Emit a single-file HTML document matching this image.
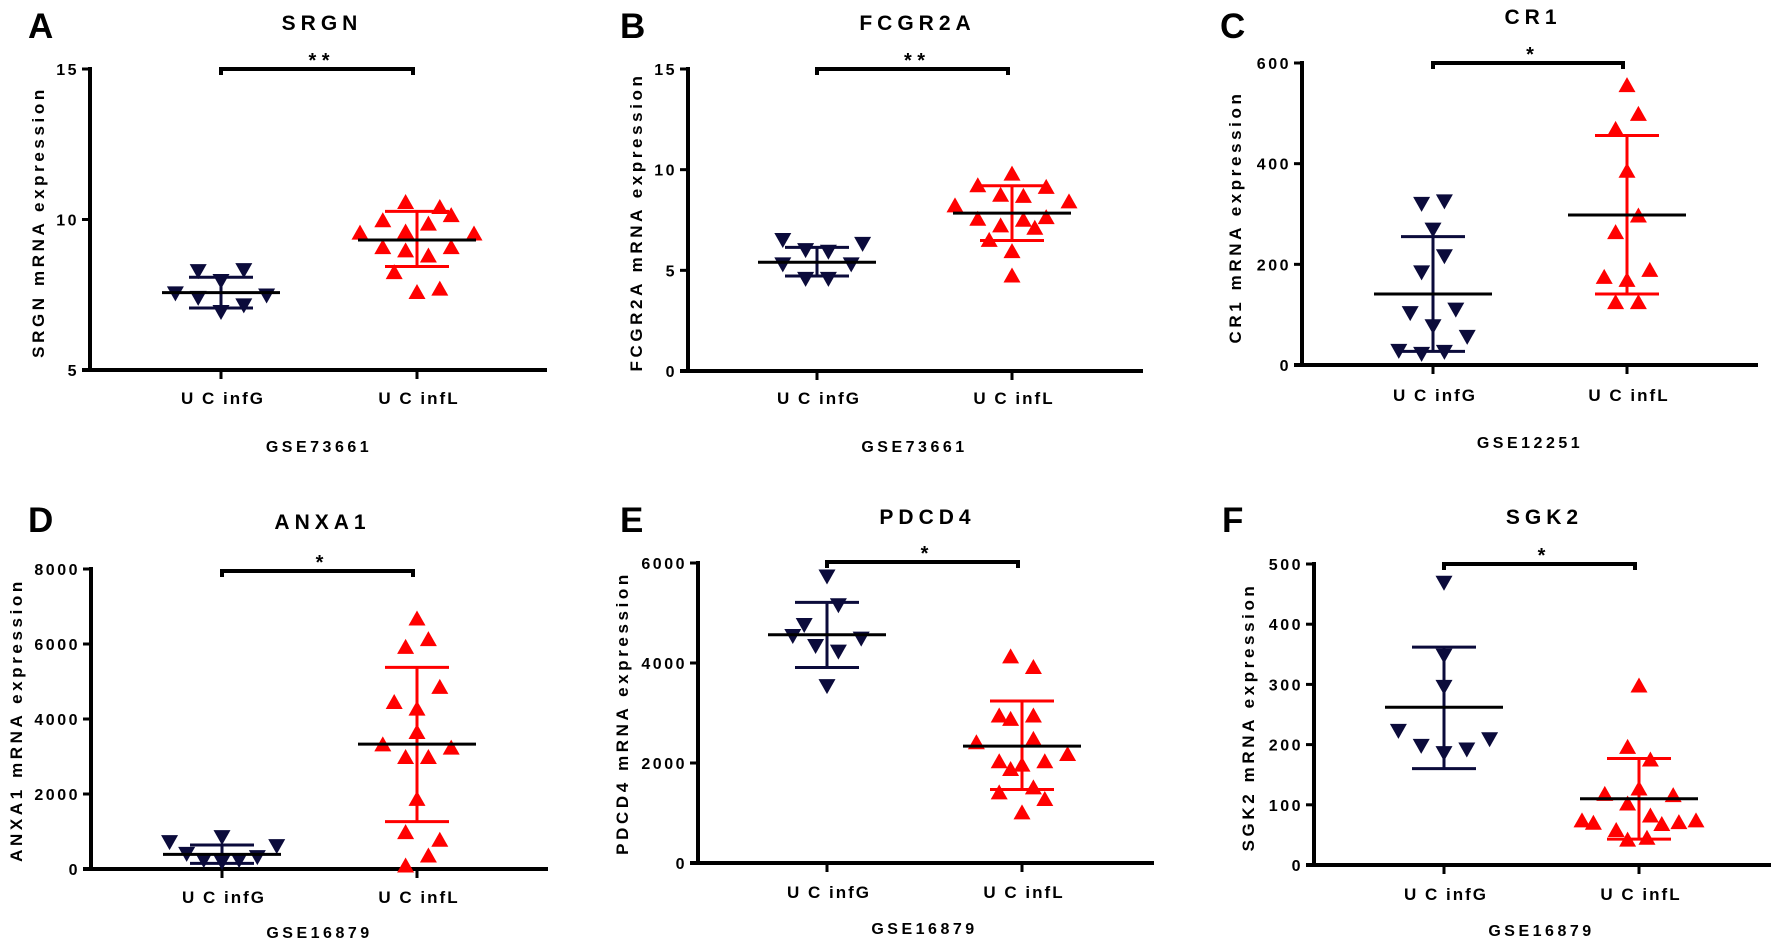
<!DOCTYPE html>
<html><head><meta charset="utf-8">
<style>
html,body{margin:0;padding:0;background:#fff;}
svg{display:block;font-family:"Liberation Sans",Arial,sans-serif;font-weight:bold;}
</style></head>
<body>
<svg id="fig" width="1772" height="944" viewBox="0 0 1772 944" xmlns="http://www.w3.org/2000/svg"></svg>
<script>
// ---------- DATA ----------
const categories = ["U C infG", "U C infL"];
// A SRGN
const srgnTicks = [5, 10, 15];
const srgnG = [8.27, 8.30, 7.94, 7.53, 7.38, 7.46, 7.13, 6.91];
const srgnL = [10.60, 10.43, 10.16, 9.99, 9.88, 9.58, 9.62, 9.55, 9.10, 8.99, 9.10, 8.82, 8.27, 7.61, 7.72];
const srgnGCol = [-2, 2, 0, -4, -2, 4, 2, 0];
const srgnLCol = [-1, 2, 3, -3, 1, -5, -1, 5, -3, -1, 3, 1, -2, 0, 2];
const srgnMean = [7.57, 9.32];
const srgnSdHi = [8.08, 10.27];
const srgnSdLo = [7.06, 8.44];
// B FCGR2A
const fcgrTicks = [0, 5, 10, 15];
const fcgrG = [6.48, 5.98, 5.90, 6.29, 5.27, 5.27, 4.55, 4.55];
const fcgrL = [9.83, 9.25, 9.17, 8.78, 8.72, 8.25, 8.45, 7.59, 7.54, 7.67, 7.26, 7.14, 6.54, 5.98, 4.77];
const fcgrGCol = [-3, -1, 1, 4, -3, 3, -1, 1];
const fcgrLCol = [0, -3, 3, -1, 1, -5, 5, -3, 1, 3, -1, 2, -2, 0, 0];
const fcgrMean = [5.40, 7.84];
const fcgrSdHi = [6.14, 9.20];
const fcgrSdLo = [4.72, 6.48];
// C CR1
const cr1Ticks = [0, 200, 400, 600];
const cr1G = [319, 324, 268, 215, 183, 102, 109, 76, 55, 27, 21, 25];
const cr1L = [557, 500, 470, 387, 298, 265, 176, 170, 190, 126, 126];
const cr1GCol = [-1, 1, 0, 1, -1, -2, 2, 0, 3, -3, -1, 1];
const cr1LCol = [0, 1, -1, 0, 1, -1, -2, 0, 2, -1, 1];
const cr1Mean = [141, 298];
const cr1SdHi = [255, 456];
const cr1SdLo = [27, 141];
// D ANXA1
const anxaTicks = [0, 2000, 4000, 6000, 8000];
const anxaG = [703, 391, 222, 837, 169, 222, 302, 596];
const anxaL = [6693, 6142, 5937, 4869, 4468, 4290, 3667, 3338, 3249, 2999, 2999, 1884, 997, 792, 374, 107];
const anxaGCol = [-4.6, -3.1, -1.6, 0, 0, 1.5, 3.1, 4.8];
const anxaLCol = [0, 1, -1, 2, -2, 0, 0, -3, 3, -1, 1, 0, -1, 2, 1, -1];
const anxaMean = [391, 3329];
const anxaSdHi = [640, 5376];
const anxaSdLo = [151, 1264];
// E PDCD4
const pdcdTicks = [0, 2000, 4000, 6000];
const pdcdG = [5719, 5145, 4751, 4531, 4477, 4330, 4217, 3528];
const pdcdL = [4143, 3929, 2960, 2893, 2960, 2492, 2425, 2191, 2044, 2044, 1977, 1890, 1523, 1423, 1289, 1022];
const pdcdGCol = [0, 1, -2, -3, 3, -1, 1, 0];
const pdcdLCol = [-1, 1, -2, -1, 1, 1, -4, 4, -2, 2, 0, -1, 1, -2, 2, 0];
const pdcdMean = [4564, 2338];
const pdcdSdHi = [5212, 3240];
const pdcdSdLo = [3909, 1470];
// F SGK2
const sgkTicks = [0, 100, 200, 300, 400, 500];
const sgkG = [468, 347, 295, 222, 197, 185, 191, 208];
const sgkL = [299, 197, 176, 119, 128, 117, 103, 83, 75, 71, 75, 72, 69, 59, 43, 46];
const sgkGCol = [0, 0, 0, -4, -2, 0, 2, 4];
const sgkLCol = [0, -1, 1, -3, 0, 3, -1, 1, -5, -4, 5, 3.5, 2, -2, -1, 0.7];
const sgkMean = [262, 110];
const sgkSdHi = [362, 177];
const sgkSdLo = [160, 43];

// ---------- LAYOUT ----------
const NAVY = "#0b0b3b", RED = "#ff0000";
const panels = [
 {id:"a", letter:"A", title:"SRGN", ytitle:"SRGN mRNA expression", gse:"GSE73661", ticks:srgnTicks, G:srgnG, L:srgnL, GC:srgnGCol, LC:srgnLCol, mean:srgnMean, hi:srgnSdHi, lo:srgnSdLo, stars:"* *",
  ax:90, yTop:69, yBot:370, xEnd:547, cx:[221,417], lx:28, ly:38, ty:30, xly:404, gy:452, ytx:38, yty:222, sigY:69},
 {id:"b", letter:"B", title:"FCGR2A", ytitle:"FCGR2A mRNA expression", gse:"GSE73661", ticks:fcgrTicks, G:fcgrG, L:fcgrL, GC:fcgrGCol, LC:fcgrLCol, mean:fcgrMean, hi:fcgrSdHi, lo:fcgrSdLo, stars:"* *",
  ax:688, yTop:69, yBot:371, xEnd:1143, cx:[817,1012], lx:620, ly:38, ty:30, xly:404, gy:452, ytx:636, yty:222, sigY:69},
 {id:"c", letter:"C", title:"CR1", ytitle:"CR1 mRNA expression", gse:"GSE12251", ticks:cr1Ticks, G:cr1G, L:cr1L, GC:cr1GCol, LC:cr1LCol, mean:cr1Mean, hi:cr1SdHi, lo:cr1SdLo, stars:"*",
  ax:1302, yTop:63, yBot:365, xEnd:1758, cx:[1433,1627], lx:1220, ly:38, ty:24, xly:401, gy:448, ytx:1235, yty:217, sigY:63},
 {id:"d", letter:"D", title:"ANXA1", ytitle:"ANXA1 mRNA expression", gse:"GSE16879", ticks:anxaTicks, G:anxaG, L:anxaL, GC:anxaGCol, LC:anxaLCol, mean:anxaMean, hi:anxaSdHi, lo:anxaSdLo, stars:"*",
  ax:91, yTop:569, yBot:869, xEnd:548, cx:[222,417], lx:28, ly:532, ty:529, xly:903, gy:938, ytx:16, yty:720, sigY:571},
 {id:"e", letter:"E", title:"PDCD4", ytitle:"PDCD4 mRNA expression", gse:"GSE16879", ticks:pdcdTicks, G:pdcdG, L:pdcdL, GC:pdcdGCol, LC:pdcdLCol, mean:pdcdMean, hi:pdcdSdHi, lo:pdcdSdLo, stars:"*",
  ax:698, yTop:563, yBot:863, xEnd:1154, cx:[827,1022], lx:620, ly:532, ty:524, xly:898, gy:934, ytx:622, yty:713, sigY:562},
 {id:"f", letter:"F", title:"SGK2", ytitle:"SGK2 mRNA expression", gse:"GSE16879", ticks:sgkTicks, G:sgkG, L:sgkL, GC:sgkGCol, LC:sgkLCol, mean:sgkMean, hi:sgkSdHi, lo:sgkSdLo, stars:"*",
  ax:1314, yTop:564, yBot:865, xEnd:1771, cx:[1444,1639], lx:1222, ly:532, ty:524, xly:900, gy:936, ytx:1248, yty:717, sigY:564}
];
const COL = 11.4, TW = 17, TH = 15, MEANHW = 59, SDHW = 32;

const svg = document.getElementById("fig");
const NS = "http://www.w3.org/2000/svg";
function mk(tag, attrs, parent) {
  const e = document.createElementNS(NS, tag);
  for (const k in attrs) e.setAttribute(k, attrs[k]);
  (parent || svg).appendChild(e);
  return e;
}

panels.forEach(p => {
  const g = mk("g", {});
  
  
  const vmin = p.ticks[0], vmax = p.ticks[p.ticks.length - 1];
  const y = v => p.yBot - (v - vmin) / (vmax - vmin) * (p.yBot - p.yTop);

  let t = mk("text", {x:p.lx, y:p.ly, "font-size":35, fill:"#000"}, g);
  t.textContent = p.letter;
  
  

  const mid = (p.cx[0] + p.cx[1]) / 2;
  t = mk("text", {x:mid + 3, y:p.ty, "font-size":21, "letter-spacing":5, "text-anchor":"middle", fill:"#000"}, g);
  t.textContent = p.title;
  
  

  t = mk("text", {x:0, y:0, "font-size":17, "letter-spacing":3.6, "text-anchor":"middle", fill:"#000",
    transform:`translate(${p.ytx + 6},${p.yty}) rotate(-90)`}, g);
  t.textContent = p.ytitle;
  
  

  // axes
  let a = mk("line", {x1:p.ax, y1:p.yTop - 2, x2:p.ax, y2:p.yBot + 2, stroke:"#000", "stroke-width":4}, g);
  
  
  a = mk("line", {x1:p.ax - 8, y1:p.yBot, x2:p.xEnd, y2:p.yBot, stroke:"#000", "stroke-width":4}, g);
  
  

  p.ticks.forEach(v => {
    const tk = mk("line", {x1:p.ax - 8, y1:y(v), x2:p.ax, y2:y(v), stroke:"#000", "stroke-width":3}, g);
    
    
    const tl = mk("text", {x:p.ax - 11, y:y(v) + 6, "font-size":16, "letter-spacing":2.5, "text-anchor":"end", fill:"#000"}, g);
    tl.textContent = String(v);
    
    
  });
  p.cx.forEach((cx, i) => {
    const tk = mk("line", {x1:cx, y1:p.yBot, x2:cx, y2:p.yBot + 9, stroke:"#000", "stroke-width":3}, g);
    
    
    const tl = mk("text", {x:cx + 2, y:p.xly, "font-size":17, "letter-spacing":2, "text-anchor":"middle", fill:"#000"}, g);
    tl.textContent = categories[i];
    
    
  });

  t = mk("text", {x:mid, y:p.gy, "font-size":16, "letter-spacing":3.5, "text-anchor":"middle", fill:"#000"}, g);
  t.textContent = p.gse;
  
  

  // significance bar
  const sb = mk("path", {d:`M${p.cx[0]},${p.sigY + 6} V${p.sigY} H${p.cx[1] - 4} V${p.sigY + 6}`, stroke:"#000", "stroke-width":4, fill:"none"}, g);
  
  
  t = mk("text", {x:mid, y:p.sigY - 2, "font-size":20, "text-anchor":"middle", fill:"#000"}, g);
  t.textContent = p.stars;
  
  

  // points
  const groups = [[p.G, p.GC, NAVY, true], [p.L, p.LC, RED, false]];
  groups.forEach((grp, gi) => {
    const [vals, cols, color, down] = grp;
    const cx = p.cx[gi];
    // SD whisker
    const w = mk("path", {d:`M${cx},${y(p.hi[gi])} V${y(p.lo[gi])} M${cx - SDHW},${y(p.hi[gi])} H${cx + SDHW} M${cx - SDHW},${y(p.lo[gi])} H${cx + SDHW}`, stroke:color, "stroke-width":3, fill:"none"}, g);
    
    
    vals.forEach((v, i) => {
      const px = cx + cols[i] * COL, py = y(v);
      const d = down
        ? `M${px - TW/2},${py - TH/2} L${px + TW/2},${py - TH/2} L${px},${py + TH/2} Z`
        : `M${px - TW/2},${py + TH/2} L${px + TW/2},${py + TH/2} L${px},${py - TH/2} Z`;
      const m = mk("path", {d:d, fill:color}, g);
      
      
    });
    const ml = mk("line", {x1:cx - MEANHW, y1:y(p.mean[gi]), x2:cx + MEANHW, y2:y(p.mean[gi]), stroke:"#000", "stroke-width":3}, g);
    
    
  });
});
</script>
</body></html>
